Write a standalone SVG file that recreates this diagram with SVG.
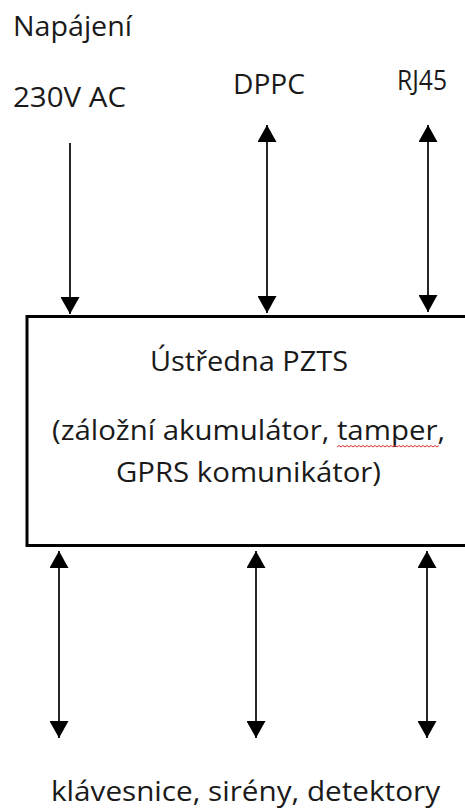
<svg xmlns="http://www.w3.org/2000/svg" width="465" height="809" viewBox="0 0 465 809">
<style>
text{font-family:"Open Sans","Liberation Sans",sans-serif;font-size:28px;fill:#1a1a1a}
.c{text-anchor:middle}
.ln{stroke:#000;stroke-width:1.7;fill:none}
</style>
<defs>
<marker id="ah" viewBox="0 0 17 19" refX="17" refY="9.5" markerWidth="17" markerHeight="19" markerUnits="userSpaceOnUse" orient="auto-start-reverse">
<path d="M0,0 L17,9.5 L0,19 z" fill="#000"/>
</marker>
</defs>
<rect width="465" height="809" fill="#fff"/>
<g id="labels-top">
<text x="13" y="36" textLength="119" lengthAdjust="spacingAndGlyphs">Napájení</text>
<text x="13" y="107" textLength="113" lengthAdjust="spacingAndGlyphs">230V AC</text>
<text x="233" y="94" textLength="72" lengthAdjust="spacingAndGlyphs">DPPC</text>
<text x="397" y="90" textLength="50" lengthAdjust="spacingAndGlyphs">RJ45</text>
</g>
<g id="ustredna">
<rect x="27" y="316.5" width="450" height="229" fill="#fff" stroke="#000" stroke-width="3"/>
<text class="c" x="249" y="371" textLength="198" lengthAdjust="spacingAndGlyphs">Ústředna PZTS</text>
<text class="c" x="248.5" y="440" textLength="393" lengthAdjust="spacingAndGlyphs">(záložní akumulátor, tamper,</text>
<text class="c" x="248.5" y="482" textLength="265" lengthAdjust="spacingAndGlyphs">GPRS komunikátor)</text>
<path d="M337,447 l2,-1.5 l2,1.5 l2,-1.5 l2,1.5 l2,-1.5 l2,1.5 l2,-1.5 l2,1.5 l2,-1.5 l2,1.5 l2,-1.5 l2,1.5 l2,-1.5 l2,1.5 l2,-1.5 l2,1.5 l2,-1.5 l2,1.5 l2,-1.5 l2,1.5 l2,-1.5 l2,1.5 l2,-1.5 l2,1.5 l2,-1.5 l2,1.5 l2,-1.5 l2,1.5 l2,-1.5 l2,1.5 l2,-1.5 l2,1.5 l2,-1.5 l2,1.5 l2,-1.5 l2,1.5 l2,-1.5 l2,1.5 l2,-1.5 l2,1.5 l2,-1.5 l2,1.5 l2,-1.5 l2,1.5 l2,-1.5 l2,1.5 l2,-1.5 l2,1.5 l2,-1.5 l2,1.5 l2,-1.5" fill="none" stroke="#e03030" stroke-width="1"/>
</g>
<g id="label-bottom">
<text class="c" x="245.5" y="801" textLength="389" lengthAdjust="spacingAndGlyphs">klávesnice, sirény, detektory</text>
</g>
<g id="connectors">
<line class="ln" x1="70" y1="143" x2="70" y2="314" marker-end="url(#ah)"/>
<line class="ln" x1="267" y1="125" x2="267" y2="313" marker-start="url(#ah)" marker-end="url(#ah)"/>
<line class="ln" x1="428" y1="125" x2="428" y2="312" marker-start="url(#ah)" marker-end="url(#ah)"/>
<line class="ln" x1="59" y1="551" x2="59" y2="738" marker-start="url(#ah)" marker-end="url(#ah)"/>
<line class="ln" x1="256" y1="551" x2="256" y2="738" marker-start="url(#ah)" marker-end="url(#ah)"/>
<line class="ln" x1="427" y1="551" x2="427" y2="738" marker-start="url(#ah)" marker-end="url(#ah)"/>
</g>
</svg>
